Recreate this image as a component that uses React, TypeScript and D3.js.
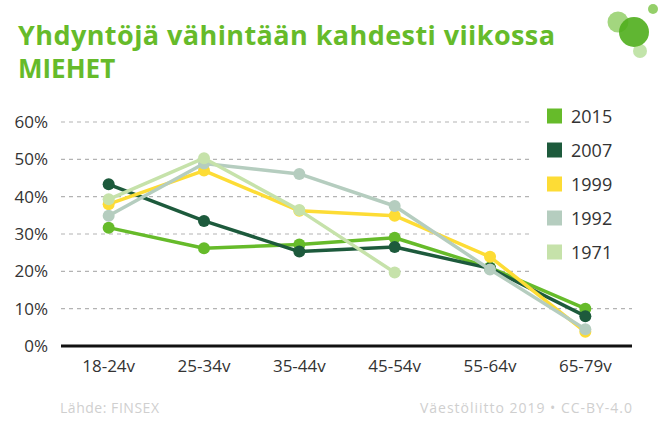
import { useEffect, useRef } from 'react';
import * as d3 from 'd3';

const ageGroups = ['18-24v', '25-34v', '35-44v', '45-54v', '55-64v', '65-79v'];
const yTicks = [0, 10, 20, 30, 40, 50, 60];

const years = ['2015', '2007', '1999', '1992', '1971'];
const colors = ['#66bb2a', '#1d5a3c', '#fddc35', '#b5cdbf', '#c6e2aa'];

const v2015 = [31.7, 26.2, 27.2, 29.0, 21.0, 10.0];
const v2007 = [43.3, 33.5, 25.3, 26.5, 20.8, 8.0];
const v1999 = [38.0, 47.0, 36.2, 34.9, 23.9, 3.8];
const v1992 = [34.9, 48.9, 46.1, 37.5, 20.5, 4.5];
const v1971 = [39.3, 50.3, 36.4, 19.7, null, null];

const seriesValues = [v2015, v2007, v1999, v1992, v1971];

const W = 662;
const H = 440;
const FONT = "'Open Sans', sans-serif";

export default function App() {
  const ref = useRef<SVGSVGElement>(null);

  useEffect(() => {
    if (!ref.current) return;
    const svg = d3.select(ref.current);
    svg.selectAll('*').remove();

    const left = 61;
    const right = 633;
    const top = 122;
    const bottom = 346;

    const x = d3.scaleBand().domain(ageGroups).range([left, right]);
    const y = d3.scaleLinear().domain([0, 60]).range([bottom, top]);

    // title
    svg
      .append('text')
      .attr('x', 18)
      .attr('y', 45)
      .attr('fill', '#66bb2a')
      .attr('font-family', FONT)
      .attr('font-weight', 700)
      .attr('font-size', 27)
      .attr('textLength', 537)
      .attr('lengthAdjust', 'spacing')
      .text('Yhdyntöjä vähintään kahdesti viikossa');
    svg
      .append('text')
      .attr('x', 18)
      .attr('y', 78)
      .attr('fill', '#66bb2a')
      .attr('font-family', FONT)
      .attr('font-weight', 700)
      .attr('font-size', 26)
      .text('MIEHET');

    // logo
    const logo = svg.append('g');
    logo.append('circle').attr('cx', 618).attr('cy', 22).attr('r', 10.5).attr('fill', '#66bb2a').attr('opacity', 0.6);
    logo.append('circle').attr('cx', 634).attr('cy', 32).attr('r', 15).attr('fill', '#4fae1c').attr('opacity', 0.9);
    logo.append('circle').attr('cx', 653).attr('cy', 9).attr('r', 5).attr('fill', '#66bb2a').attr('opacity', 0.7);
    logo.append('circle').attr('cx', 640).attr('cy', 51).attr('r', 7).attr('fill', '#66bb2a').attr('opacity', 0.4);

    // grid
    svg
      .append('g')
      .selectAll('line')
      .data(yTicks.filter((d) => d > 0))
      .enter()
      .append('line')
      .attr('x1', left)
      .attr('x2', right - 1)
      .attr('y1', (d) => y(d))
      .attr('y2', (d) => y(d))
      .attr('stroke', '#b3b3b3')
      .attr('stroke-width', 1.2)
      .attr('stroke-dasharray', '4,4');

    // legend background covers the grid
    svg.append('rect').attr('x', 533).attr('y', 98).attr('width', 110).attr('height', 195).attr('fill', '#fff');

    // y labels
    svg
      .append('g')
      .selectAll('text')
      .data(yTicks)
      .enter()
      .append('text')
      .attr('x', 48)
      .attr('y', (d) => y(d) + 6)
      .attr('text-anchor', 'end')
      .attr('fill', '#333')
      .attr('font-family', FONT)
      .attr('font-size', 17)
      .text((d) => `${d}%`);

    // x labels
    svg
      .append('g')
      .selectAll('text')
      .data(ageGroups)
      .enter()
      .append('text')
      .attr('x', (d) => (x(d) ?? 0) + x.bandwidth() / 2)
      .attr('y', 372)
      .attr('text-anchor', 'middle')
      .attr('fill', '#333')
      .attr('font-family', FONT)
      .attr('font-size', 17)
      .text((d) => d);

    // axis
    svg
      .append('line')
      .attr('x1', left)
      .attr('x2', right - 1)
      .attr('y1', bottom)
      .attr('y2', bottom)
      .attr('stroke', '#111')
      .attr('stroke-width', 3);

    // series
    const line = d3
      .line<number | null>()
      .defined((d) => d !== null)
      .x((_, i) => (x(ageGroups[i]) ?? 0) + x.bandwidth() / 2)
      .y((d) => y(d as number));

    seriesValues.forEach((vals, si) => {
      const g = svg.append('g');
      g.append('path')
        .datum(vals)
        .attr('d', line)
        .attr('fill', 'none')
        .attr('stroke', colors[si])
        .attr('stroke-width', 3.5)
        .attr('stroke-linejoin', 'round');
      g.selectAll('circle')
        .data(vals.map((v, i) => ({ v, i })).filter((d) => d.v !== null))
        .enter()
        .append('circle')
        .attr('cx', (d) => (x(ageGroups[d.i]) ?? 0) + x.bandwidth() / 2)
        .attr('cy', (d) => y(d.v as number))
        .attr('r', 6)
        .attr('fill', colors[si]);
    });

    // legend
    const lg = svg
      .append('g')
      .selectAll('g')
      .data(years)
      .enter()
      .append('g')
      .attr('transform', (_, i) => `translate(547, ${116 + i * 34})`);
    lg.append('rect')
      .attr('x', 0)
      .attr('y', -7.5)
      .attr('width', 15)
      .attr('height', 15)
      .attr('fill', (_, i) => colors[i]);
    lg.append('text')
      .attr('x', 24)
      .attr('y', 6.5)
      .attr('fill', '#333')
      .attr('font-family', FONT)
      .attr('font-size', 18)
      .text((d) => d);

    // footer
    svg
      .append('text')
      .attr('x', 60)
      .attr('y', 413)
      .attr('fill', '#cfcfcf')
      .attr('font-family', FONT)
      .attr('font-size', 14)
      .attr('textLength', 99)
      .attr('lengthAdjust', 'spacing')
      .text('Lähde: FINSEX');
    svg
      .append('text')
      .attr('x', 420)
      .attr('y', 413)
      .attr('fill', '#cfcfcf')
      .attr('font-family', FONT)
      .attr('font-size', 14)
      .attr('textLength', 212)
      .attr('lengthAdjust', 'spacing')
      .text('Väestöliitto 2019 • CC-BY-4.0');
  }, []);

  return (
    <div style={{ position: 'absolute', left: 0, top: 0 }}>
      <svg ref={ref} width={W} height={H} style={{ display: 'block', background: '#fff' }} />
    </div>
  );
}
